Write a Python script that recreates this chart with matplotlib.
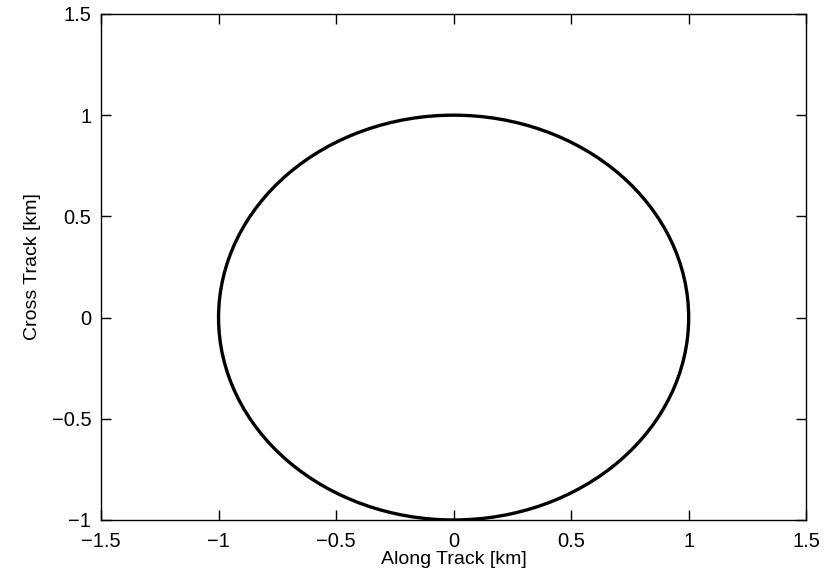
import matplotlib
matplotlib.use('Agg')
import matplotlib.pyplot as plt
from matplotlib.patches import Circle

# relative orbit: centre and radius in km
center = (0.0, 0.0)
radius = 1.0

xticks = [-1.5, -1, -0.5, 0, 0.5, 1, 1.5]
yticks = [-1, -0.5, 0, 0.5, 1, 1.5]

plt.rcParams['font.family'] = ['Liberation Sans', 'DejaVu Sans']

fig = plt.figure(figsize=(8.24, 5.75), dpi=100)
ax = fig.add_axes([0.1226, 0.0957, 0.8558, 0.88])

ax.add_patch(Circle(center, radius, fill=False, color='black', lw=2.4))

ax.set_xlim(-1.5, 1.5)
ax.set_ylim(-1, 1.5)
ax.set_xticks(xticks)
ax.set_yticks(yticks)
ax.set_xticklabels(['\u22121.5', '\u22121', '\u22120.5', '0', '0.5', '1', '1.5'])
ax.set_yticklabels(['\u22121', '\u22120.5', '0', '0.5', '1', '1.5'])
ax.tick_params(direction='in', length=7, width=1, top=True, right=True,
               labelsize=14.5)
ax.tick_params(axis='x', pad=9)
ax.tick_params(axis='y', pad=7)
for s in ax.spines.values():
    s.set_linewidth(1)

ax.set_xlabel('Along Track [km]', fontsize=14, labelpad=0)
ax.set_ylabel('Cross Track [km]', fontsize=14, labelpad=8)

fig.savefig('out.png', dpi=100)
